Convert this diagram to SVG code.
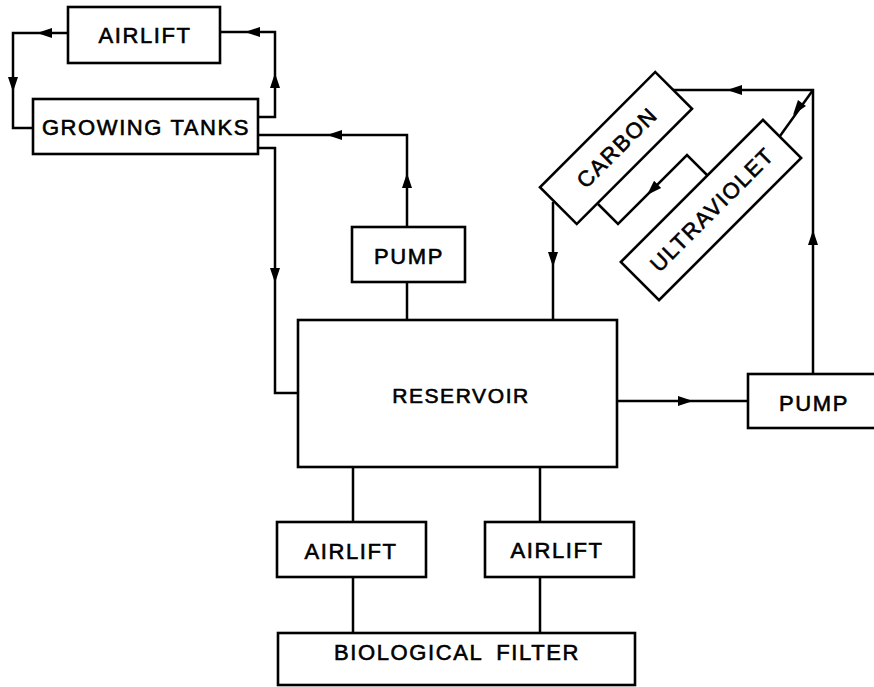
<svg xmlns="http://www.w3.org/2000/svg" width="874" height="687" viewBox="0 0 874 687">
<style>
.box{fill:#fff;stroke:#000;stroke-width:2.6}
.ln{fill:none;stroke:#000;stroke-width:2.5;stroke-linejoin:miter}
.t{font-family:"Liberation Sans",Arial,sans-serif;font-size:22px;letter-spacing:1.6px;text-anchor:middle;fill:#000;stroke:#000;stroke-width:0.6}
</style>
<defs>
<path id="ah" d="M0,0 L-15,-5 L-15,5 Z" fill="#000"/>
</defs>
<rect width="874" height="687" fill="#fff"/>
<g id="connectors">
<path class="ln" d="M68,33 H13 V128 H33"/>
<path class="ln" d="M258,117 H275 V32 H220"/>
<path class="ln" d="M407,227 V135 H258"/>
<path class="ln" d="M258,148 H275 V393 H298"/>
<path class="ln" d="M407,282 V320"/>
<path class="ln" d="M617,401 H748"/>
<path class="ln" d="M813,374 V90 H673"/>
<path class="ln" d="M813,90 L780,136"/>
<path class="ln" d="M553,202 V320"/>
<path class="ln" d="M707,175 L687,155 L618,224 L598,204"/>
<path class="ln" d="M353,467 V522 M353,577 V633"/>
<path class="ln" d="M540,467 V522 M540,577 V633"/>
<use href="#ah" transform="translate(37,33) rotate(180)"/>
<use href="#ah" transform="translate(13,92) rotate(90)"/>
<use href="#ah" transform="translate(275,73) rotate(-90)"/>
<use href="#ah" transform="translate(245,32) rotate(180)"/>
<use href="#ah" transform="translate(327,135) rotate(180)"/>
<use href="#ah" transform="translate(407,173) rotate(-90)"/>
<use href="#ah" transform="translate(275,283) rotate(90)"/>
<use href="#ah" transform="translate(693,401)"/>
<use href="#ah" transform="translate(813,230) rotate(-90)"/>
<use href="#ah" transform="translate(727,90) rotate(180)"/>
<use href="#ah" transform="translate(793,115) rotate(126.7)"/>
<use href="#ah" transform="translate(553,267) rotate(90)"/>
<use href="#ah" transform="translate(647,195) rotate(135)"/>
</g>
<g id="airlift-top">
<rect class="box" x="68" y="7" width="152" height="56"/>
<text class="t" x="145" y="43">AIRLIFT</text>
</g>
<g id="growing-tanks">
<rect class="box" x="33" y="99" width="225" height="55"/>
<text class="t" x="146" y="135">GROWING TANKS</text>
</g>
<g id="pump-1">
<rect class="box" x="352" y="227" width="113" height="55"/>
<text class="t" x="409" y="264">PUMP</text>
</g>
<g id="reservoir">
<rect class="box" x="298" y="320" width="319" height="147"/>
<text class="t" x="461" y="403" style="font-size:21px">RESERVOIR</text>
</g>
<g id="pump-2">
<rect class="box" x="748" y="374" width="140" height="54"/>
<text class="t" x="814" y="411">PUMP</text>
</g>
<g id="carbon" transform="translate(616,148) rotate(-45)">
<rect class="box" x="-81.5" y="-26" width="163" height="52"/>
<text class="t" x="1" y="8">CARBON</text>
</g>
<g id="ultraviolet" transform="translate(711,210) rotate(-45)">
<rect class="box" x="-100.5" y="-27" width="201" height="54"/>
<text class="t" x="1" y="8">ULTRAVIOLET</text>
</g>
<g id="airlift-left">
<rect class="box" x="277" y="522" width="149" height="55"/>
<text class="t" x="351" y="559">AIRLIFT</text>
</g>
<g id="airlift-right">
<rect class="box" x="485" y="522" width="149" height="55"/>
<text class="t" x="557" y="558">AIRLIFT</text>
</g>
<g id="biological-filter">
<rect class="box" x="278" y="633" width="357" height="52"/>
<text class="t" x="457" y="660" style="word-spacing:6px">BIOLOGICAL FILTER</text>
</g>
</svg>
